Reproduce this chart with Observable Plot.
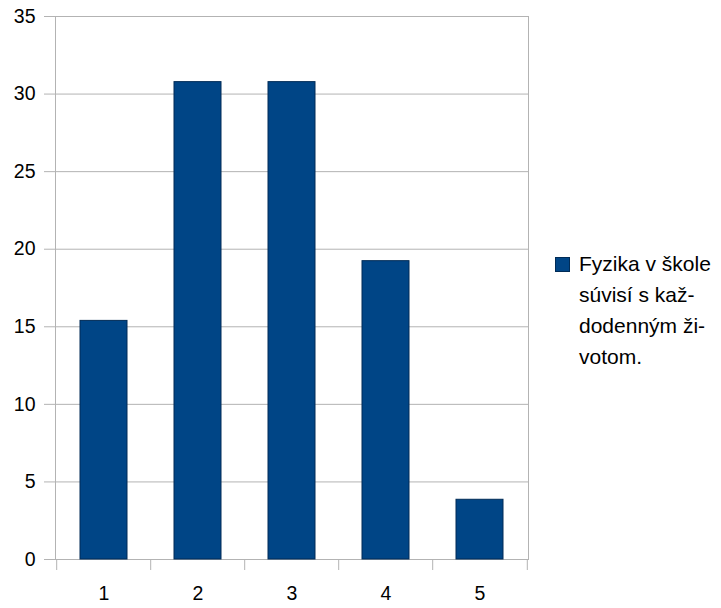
<!DOCTYPE html>
<html>
<head>
<meta charset="utf-8">
<script src="https://cdn.jsdelivr.net/npm/d3@7"></script>
<script src="https://cdn.jsdelivr.net/npm/@observablehq/plot@0.6"></script>
<style>
  html, body { margin: 0; padding: 0; background: #fff; }
  #wrap { position: relative; width: 721px; height: 608px; font-family: "Liberation Sans", Arial, sans-serif; }
  #legend { position: absolute; left: 555px; top: 256px; display: flex; align-items: flex-start; }
  #swatch { width: 15px; height: 15px; background: #004586; border: 1px solid #002b56; box-sizing: border-box; margin-top: 1px; }
  #ltext { margin-left: 9px; font-size: 21px; line-height: 31px; color: #000; margin-top: -8px; }
</style>
</head>
<body>
<div id="wrap"></div>
<script>
const categories = ["1", "2", "3", "4", "5"];
const values = [15.38, 30.77, 30.77, 19.23, 3.85];
const yTicks = [0, 5, 10, 15, 20, 25, 30, 35];
const seriesName = "Fyzika v škole súvisí s každodenným životom.";
const legendLines = ["Fyzika v škole", "súvisí s kaž-", "dodenným ži-", "votom."];

const data = categories.map((c, i) => ({cat: c, value: values[i]}));

const width = 540, marginLeft = 55, marginRight = 12;
const step = (width - marginLeft - marginRight) / categories.length;
const grid = "#b3b3b3";
const fs = 19.5;

const chart = Plot.plot({
  width, height: 608,
  marginLeft, marginRight, marginTop: 16, marginBottom: 49,
  style: {fontFamily: '"Liberation Sans", Arial, sans-serif', fontSize: fs + "px", color: "#000", background: "#fff"},
  x: {domain: categories, paddingInner: 0.5, paddingOuter: 0.25, label: null},
  y: {domain: [0, 35], label: null},
  marks: [
    Plot.gridY(yTicks, {stroke: grid, strokeOpacity: 1}),
    Plot.frame({stroke: grid}),
    Plot.axisY(yTicks, {tickSize: 11, stroke: grid, strokeOpacity: 1, text: null, label: null}),
    Plot.axisY(yTicks, {tickSize: 0, tickPadding: 20, fill: "#000", fontSize: fs, label: null}),
    Plot.axisX(categories, {tickSize: 11, dx: -step / 2, stroke: grid, strokeOpacity: 1, text: null, label: null}),
    Plot.axisX([categories[categories.length - 1]], {tickSize: 11, dx: step / 2, stroke: grid, strokeOpacity: 1, text: null, label: null}),
    Plot.axisX(categories, {tickSize: 0, tickPadding: 27, fill: "#000", fontSize: fs, label: null}),
    Plot.barY(data, {x: "cat", y: "value", fill: "#004586", stroke: "#002b56", strokeWidth: 1, title: d => seriesName + ": " + d.value})
  ]
});

const wrap = document.getElementById("wrap");
wrap.appendChild(chart);
const legend = document.createElement("div");
legend.id = "legend";
legend.innerHTML = '<div id="swatch"></div><div id="ltext">' + legendLines.join("<br>") + '</div>';
wrap.appendChild(legend);
</script>
</body>
</html>
